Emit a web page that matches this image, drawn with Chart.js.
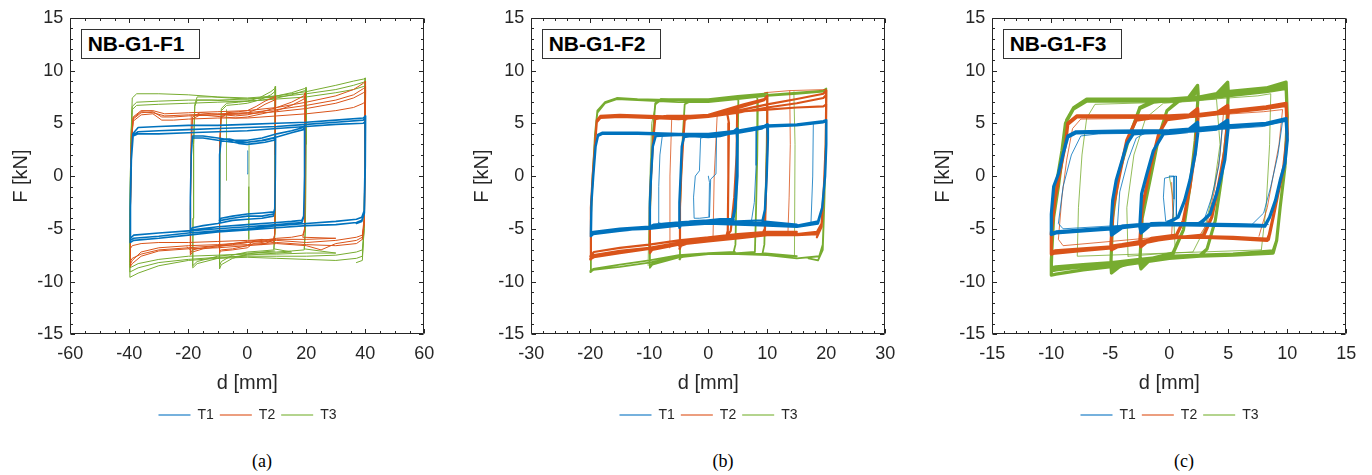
<!DOCTYPE html>
<html>
<head>
<meta charset="utf-8">
<script src="https://cdn.jsdelivr.net/npm/chart.js@4.4.0/dist/chart.umd.min.js"></script>
<style>
  html, body { margin: 0; padding: 0; background: #fff; overflow: hidden; }
  #fig { position: relative; width: 1372px; height: 475px; overflow: hidden; }
  #fig canvas { position: absolute; top: 0; }
  .tag { position: absolute; top: 29px; width: 119px; height: 30px; box-sizing: border-box;
         border: 1.3px solid #333; background: #fff; color: #000; padding-left: 6px;
         font: bold 21px "Liberation Sans", Arial, sans-serif; line-height: 28px; white-space: nowrap; }
  .cap { position: absolute; top: 451px; width: 60px; text-align: center; color: #000;
         font: 18px "Liberation Serif", "Times New Roman", serif; }
</style>
</head>
<body>
<div id="fig"></div>
<script>
// ---- categories / labels ----
const seriesNames = ['T1', 'T2', 'T3'];
const panelTitles = ['NB-G1-F1', 'NB-G1-F2', 'NB-G1-F3'];
const panelCaptions = ['(a)', '(b)', '(c)'];
const fTicks = [-15, -10, -5, 0, 5, 10, 15];
const dTicksA = [-60, -40, -20, 0, 20, 40, 60];
const dTicksB = [-30, -20, -10, 0, 10, 20, 30];
const dTicksC = [-15, -10, -5, 0, 5, 10, 15];

// ---- (a) NB-G1-F1 : [d, F] paths ----
const a_T1 = [
  [9.0,-3.4],[5,-3.5],[0,-3.6],[-5,-3.8],[-8.9,-4.0],[-9.5,-4.2],[-9.5,-1.5],[-9.3,2.0],[-8.9,3.3],[-6,3.3],[-3,3.1],[0,3.0],[3,3.1],[6,3.2],[9.0,3.4],[9.6,3.6],[9.5,0.0],[9.3,-3.1],[8.8,-3.6],
  [5,-3.8],[0,-3.8],[-5,-4.0],[-8.9,-4.2],[-9.5,-4.4],[-9.5,-1.5],[-9.3,2.0],[-8.9,3.5],[-6,3.5],[-3,3.3],[0,3.2],[3,3.3],[6,3.4],[9.0,3.6],[9.6,3.8],[9.5,0.0],[9.3,-3.2],[8.8,-3.8],
  [5,-4.0],[0,-4.1],[-5,-4.2],[-10,-4.5],[-15,-4.7],[-18.6,-4.9],[-19.3,-5.1],[-19.3,-2.0],[-19.0,2.0],[-18.6,3.6],[-15,3.6],[-10,3.4],[-5,3.2],[0,3.2],[5,3.4],[10,3.7],[15,4.1],[19.0,4.4],[19.5,4.6],[19.4,0.0],[19.1,-3.8],[18.5,-4.2],
  [15,-4.3],[10,-4.4],[0,-4.6],[-10,-4.8],[-18.6,-5.1],[-19.3,-5.3],[-19.3,-2.0],[-19.0,2.0],[-18.6,3.8],[-15,3.8],[-10,3.6],[-5,3.4],[0,3.4],[5,3.6],[10,4.0],[15,4.3],[19.0,4.6],[19.5,4.8],[19.4,0.0],[19.1,-3.9],[18.5,-4.4],
  [10,-4.6],[0,-4.8],[-10,-5.0],[-20,-5.2],[-30,-5.4],[-38.5,-5.6],[-39.6,-5.9],[-39.6,-3.0],[-39.3,1.5],[-38.7,3.8],[-37,4.0],[-30,4.0],[-20,4.1],[-10,4.2],[0,4.3],[10,4.5],[20,4.7],[30,4.9],[39.3,5.0],[40.0,5.2],[39.9,1.0],[39.6,-3.3],[38.8,-3.9],[37,-4.1],
  [30,-4.3],[20,-4.5],[10,-4.7],[0,-5.0],[-10,-5.2],[-20,-5.4],[-30,-5.7],[-38.5,-5.9],[-39.7,-6.1],[-39.7,-3.0],[-39.4,1.5],[-38.8,3.9],[-37,4.2],[-30,4.3],[-20,4.4],[-10,4.5],[0,4.6],[10,4.7],[20,4.9],[30,5.1],[39.3,5.3],[40.1,5.5],[40.0,1.0],[39.7,-3.5],[38.8,-4.2],[37,-4.4],
  [30,-4.6],[20,-4.7],[10,-4.9],[0,-5.1],[-10,-5.3],[-20,-5.6],[-30,-5.9],[-38.5,-6.1],[-39.7,-6.3],[-39.7,-3.0],[-39.4,1.5],[-38.8,4.0],[-37,4.6],[-30,4.7],[-20,4.8],[-10,4.8],[0,4.9],[10,5.0],[20,5.1],[30,5.3],[39.3,5.5],[40.1,5.7],[40.0,1.0],[39.7,-3.5],[38.8,-4.3],[37,-4.5]
];
const a_T1_thin = [
  [[0.0,0.2],[0.1,1.5],[0.2,2.4]]
];
const a_T2 = [
  [9.4,-6.0],[5,-6.3],[2,-6.2],[0,-6.6],[-5,-6.9],[-8.8,-7.0],[-9.5,-7.1],[-9.5,-3.0],[-9.3,3.0],[-8.9,5.5],[-7,5.9],[-3,5.9],[0,6.0],[3,6.3],[6,6.8],[9.2,7.2],[9.6,7.4],[9.5,2.0],[9.3,-5.5],[8.8,-6.1],
  [5,-6.5],[2,-6.4],[0,-6.8],[-5,-7.0],[-8.8,-7.1],[-9.5,-7.3],[-9.5,-3.0],[-9.3,3.0],[-8.9,5.6],[-7,6.0],[-3,6.1],[0,6.2],[3,6.6],[6,7.1],[9.2,7.5],[9.6,7.6],[9.5,2.0],[9.3,-5.5],[8.8,-6.3],
  [5,-6.0],[0,-6.2],[-5,-6.4],[-10,-6.6],[-15,-6.8],[-18.6,-7.0],[-19.3,-7.3],[-19.3,-3.0],[-19.0,3.0],[-18.6,5.4],[-16,5.8],[-12,5.7],[-8,5.6],[-4,5.5],[0,5.6],[5,5.9],[10,6.2],[15,6.7],[19.2,7.3],[19.7,7.6],[19.6,2.0],[19.4,-5.0],[18.8,-5.6],
  [15,-5.8],[10,-5.9],[5,-6.1],[0,-6.3],[-5,-6.5],[-10,-6.7],[-15,-6.9],[-18.6,-7.2],[-19.3,-7.5],[-19.3,-3.0],[-19.0,3.0],[-18.6,5.6],[-16,6.0],[-12,5.9],[-8,5.8],[-4,5.7],[0,5.8],[5,6.1],[10,6.5],[15,7.0],[19.2,7.6],[19.7,7.9],[19.6,2.0],[19.4,-5.2],[18.8,-5.8],
  [30,-5.9],[20,-6.0],[10,-6.0],[0,-6.1],[-10,-6.2],[-20,-6.3],[-30,-6.3],[-36,-6.4],[-39,-6.6],[-39.7,-6.9],[-39.6,-3.0],[-39.3,3.0],[-38.7,5.2],[-36,5.8],[-32,5.9],[-29,5.3],[-25,5.3],[-20,5.4],[-10,5.5],[0,5.5],[10,5.7],[20,5.9],[30,6.2],[36,6.5],[39.4,6.9],[40.0,7.1],[39.9,3.0],[39.6,-4.0],[39.0,-5.6],[37,-5.8],
  [30,-6.1],[20,-6.3],[10,-6.1],[0,-6.3],[-10,-6.5],[-20,-6.6],[-30,-6.8],[-36,-7.2],[-39,-8.0],[-39.7,-8.4],[-39.6,-3.0],[-39.3,3.0],[-38.7,5.4],[-36,6.0],[-32,6.1],[-29,5.6],[-25,5.6],[-20,5.7],[-10,5.8],[0,5.9],[10,6.1],[20,6.4],[30,6.9],[36,7.4],[39.4,7.9],[40.1,8.1],[40.0,3.0],[39.7,-4.2],[39.0,-5.8],[37,-6.1],
  [30,-6.4],[25,-7.0],[20,-6.6],[10,-6.4],[0,-6.6],[-10,-6.8],[-20,-6.9],[-30,-7.1],[-36,-7.6],[-39,-8.3],[-39.7,-8.6],[-39.6,-3.0],[-39.3,3.0],[-38.7,5.6],[-36,6.2],[-32,6.2],[-28,5.9],[-20,6.0],[-10,6.1],[0,6.2],[10,6.5],[20,7.0],[30,7.6],[36,8.2],[39.4,8.8],[40.1,9.0],[40.0,3.0],[39.7,-4.2],[39.0,-6.0],[37,-6.4],
  [30,-6.6],[20,-6.5],[10,-6.3],[0,-6.5],[-10,-6.6],[-20,-6.8],[-30,-7.0],[-36,-7.4],[-39,-7.8],[-39.7,-8.1],[-39.6,-3.0],[-39.3,3.0],[-38.7,5.5],[-36,6.1],[-32,6.0],[-28,5.7],[-20,5.8],[-10,5.9],[0,6.0],[10,6.3],[20,6.7],[30,7.2],[36,7.7],[39.4,8.3],[40.1,8.5],[40.0,3.0],[39.7,-4.2],[39.0,-6.0]
];
const a_T2_thin = [
  [[-20.5,-6.7],[-19.4,-7.0],[-19.2,-2.0],[-19.0,5.7]]
];
const a_T3 = [
  [9.3,-7.1],[5,-7.2],[0,-7.4],[-5,-7.8],[-8.8,-8.4],[-9.4,-8.8],[-9.4,-4.0],[-9.2,3.0],[-8.8,6.4],[-7,6.9],[-3,7.0],[0,7.1],[4,7.4],[8,8.0],[9.3,8.3],[9.6,8.5],[9.5,3.0],[9.4,-5.0],[9.0,-7.0],
  [5,-7.1],[0,-7.2],[-5,-7.5],[-8.8,-8.1],[-9.4,-8.5],[-9.4,-4.0],[-9.2,3.0],[-8.8,6.2],[-7,6.7],[-3,6.8],[0,6.9],[4,7.2],[8,7.7],[9.3,8.0],[9.6,8.2],[9.5,3.0],[9.4,-5.0],[9.0,-6.9],
  [15,-7.2],[10,-7.3],[0,-7.5],[-10,-7.8],[-17,-8.3],[-18.5,-8.7],[-18.4,-4.0],[-18.2,3.0],[-17.8,6.8],[-17,7.5],[-12,7.5],[-6,7.4],[0,7.3],[5,7.4],[10,7.6],[15,7.9],[19.5,8.3],[20.0,8.4],[19.9,3.0],[19.7,-5.0],[19.3,-7.0],
  [15,-7.1],[10,-7.2],[0,-7.3],[-10,-7.6],[-17,-8.1],[-18.5,-8.5],[-18.4,-4.0],[-18.2,3.0],[-17.8,6.6],[-17,7.2],[-12,7.2],[-6,7.1],[0,7.1],[5,7.2],[10,7.4],[15,7.7],[19.5,8.1],[20.0,8.2],[19.9,3.0],[19.7,-5.0],[19.3,-6.9],
  [30,-7.3],[20,-7.3],[10,-7.4],[0,-7.4],[-10,-7.5],[-20,-7.6],[-30,-7.9],[-37,-8.3],[-39.8,-8.7],[-39.8,-4.0],[-39.5,3.0],[-39.0,6.3],[-37.5,6.7],[-30,6.8],[-20,6.9],[-10,7.0],[0,7.1],[10,7.3],[20,7.5],[30,7.9],[36,8.2],[39.5,8.5],[40.0,8.6],[39.9,3.0],[39.6,-5.0],[39.0,-7.0],[37,-7.2],
  [30,-7.5],[20,-7.6],[10,-7.6],[0,-7.6],[-10,-7.7],[-20,-7.9],[-30,-8.2],[-37,-8.7],[-39.8,-9.1],[-39.8,-4.0],[-39.5,3.0],[-39.0,6.6],[-37.5,7.0],[-30,7.1],[-20,7.2],[-10,7.2],[0,7.3],[10,7.5],[20,7.8],[30,8.2],[36,8.6],[39.5,8.9],[40.0,9.0],[39.9,3.0],[39.6,-5.0],[39.0,-7.6],[37,-7.8],
  [30,-8.0],[20,-7.9],[10,-7.8],[0,-7.7],[-10,-7.8],[-20,-8.0],[-30,-8.5],[-37,-9.2],[-39.8,-9.6],[-39.8,-4.0],[-39.5,3.0],[-39.0,7.4],[-37.5,7.8],[-30,7.8],[-20,7.7],[-10,7.5],[0,7.4],[10,7.6],[20,8.0],[30,8.6],[36,9.0],[39.5,9.2],[40.0,9.3],[39.9,3.0],[39.6,-5.0],[39.0,-8.0],[37,-8.2]
];
const a_T3_thin = [
  [[-7.2,-0.4],[-7.1,3.0],[-7.0,6.3]],
  [[0.6,3.3],[0.55,-1.0],[0.5,-6.0]]
];

// ---- (b) NB-G1-F2 ----
const b_T1 = [
  [4.3,-4.1],[2,-4.1],[0,-4.2],[-3,-4.3],[-4.5,-4.5],[-4.9,-4.7],[-4.9,-2.5],[-4.7,0.0],[-4.5,2.8],[-4.1,3.8],[-3,3.9],[0,3.8],[2,3.9],[4.2,4.2],[4.9,4.5],[5.0,3.5],[4.9,0.0],[4.6,-3.0],[4.2,-4.2],
  [2,-4.3],[0,-4.3],[-3,-4.5],[-4.5,-4.6],[-4.9,-4.9],[-4.9,-2.5],[-4.7,0.0],[-4.5,2.8],[-4.1,3.7],[-3,3.8],[0,3.7],[2,3.8],[4.2,4.1],[4.8,4.4],[4.9,3.5],[4.8,0.0],[4.5,-3.0],[4.1,-4.1],
  [0,-4.2],[-5,-4.4],[-9.2,-4.6],[-9.9,-4.8],[-9.9,-2.5],[-9.7,0.0],[-9.4,2.8],[-8.9,3.8],[-5,3.9],[0,3.8],[5,4.1],[9.0,4.5],[10.0,4.8],[10.1,3.5],[9.9,0.0],[9.6,-3.2],[9.2,-4.2],[5,-4.3],
  [0,-4.4],[-5,-4.5],[-9.2,-4.8],[-9.9,-5.0],[-9.9,-2.5],[-9.7,0.0],[-9.4,2.8],[-8.9,3.9],[-5,4.0],[0,3.9],[5,4.2],[9.0,4.6],[10.0,4.9],[10.1,3.5],[9.9,0.0],[9.6,-3.2],[9.2,-4.3],
  [15,-4.6],[10,-4.5],[5,-4.4],[0,-4.2],[-5,-4.5],[-10,-4.8],[-15,-5.0],[-19.5,-5.3],[-19.9,-5.5],[-19.8,-2.5],[-19.5,0.0],[-19.1,2.8],[-18.7,3.8],[-18,4.0],[-12,4.0],[-5,3.9],[0,3.85],[5,4.1],[10,4.7],[15,4.8],[19.5,5.1],[20.0,5.2],[20.0,3.0],[19.8,0.0],[19.3,-3.0],[18.6,-4.3],
  [15,-4.7],[10,-4.6],[5,-4.5],[0,-4.4],[-5,-4.6],[-10,-4.9],[-15,-5.2],[-19.5,-5.5],[-19.9,-5.7],[-19.8,-2.5],[-19.5,0.0],[-19.1,2.8],[-18.7,3.9],[-18,4.1],[-12,4.1],[-5,4.0],[0,4.0],[5,4.3],[10,4.8],[15,4.9],[19.5,5.2],[20.0,5.3],[20.0,3.0],[19.8,0.0],[19.3,-3.0],[18.6,-4.5],
  [15,-4.8],[10,-4.7],[5,-4.6],[0,-4.5],[-5,-4.7],[-10,-5.0],[-15,-5.1],[-19.5,-5.3],[-19.9,-5.4]
];
const b_T1_thin = [
  [[0.0,0.0],[0.2,-0.6],[0.1,-3.9],[-1.5,-4.0],[-2.4,-4.0],[-2.5,-2.0],[-2.2,0.0],[-1.5,0.5],[-1.3,3.6],[-0.5,3.7],[1.0,3.7],[1.4,3.7],[1.3,0.2],[0.4,-0.3],[0.2,-3.9]],
  [[7.5,-4.3],[0,-4.3],[-8.0,-4.5],[-8.5,-4.4],[-8.4,-1.0],[-8.2,2.0],[-7.8,3.8],[0,3.9],[7.5,4.3],[8.2,4.5],[8.1,1.0],[7.8,-2.5],[7.3,-4.3]],
  [[17.8,4.9],[17.7,0.0],[17.4,-4.5]]
];
const b_T2 = [
  [3.0,-5.7],[0,-5.8],[-3,-6.2],[-4.6,-6.5],[-4.9,-6.7],[-4.8,-3.0],[-4.6,0.0],[-4.3,3.0],[-4.0,5.3],[-3,5.6],[0,5.7],[2,5.8],[3.5,6.0],[4.6,6.3],[4.9,6.4],[4.8,2.0],[4.4,-2.0],[3.8,-5.2],[3.0,-5.8],
  [0,-5.9],[-3,-6.3],[-4.6,-6.6],[-4.9,-6.9],[-4.8,-3.0],[-4.6,0.0],[-4.3,3.0],[-4.0,5.4],[-3,5.7],[0,5.8],[2,5.9],[3.2,6.0],[3.5,5.0],[3.4,0.0],[3.3,-5.2],[3.0,-5.8],
  [0,-5.8],[-5,-6.3],[-9.5,-6.9],[-9.9,-7.1],[-9.9,-3.0],[-9.7,0.0],[-9.4,3.0],[-9.0,5.4],[-7,5.6],[-3,5.6],[0,5.7],[3,6.1],[6,6.6],[9.5,7.2],[10.0,7.5],[10.0,3.0],[9.8,-1.0],[9.6,-5.0],[9.2,-5.4],[5,-5.6],
  [0,-6.0],[-5,-6.5],[-9.5,-7.0],[-9.9,-7.3],[-9.9,-3.0],[-9.7,0.0],[-9.4,3.0],[-9.0,5.5],[-7,5.7],[-3,5.7],[0,5.8],[3,6.3],[6,6.8],[9.5,7.3],[10.0,7.6],[10.0,3.0],[9.8,-1.0],[9.6,-5.1],[9.2,-5.5],
  [15,-5.3],[10,-5.3],[5,-5.5],[0,-5.8],[-5,-6.1],[-10,-6.5],[-15,-6.8],[-19.4,-7.2],[-20.0,-7.6],[-19.9,-3.0],[-19.6,0.0],[-19.2,3.0],[-18.9,5.1],[-18.3,5.5],[-15,5.6],[-10,5.5],[-5,5.4],[0,5.6],[5,6.0],[10,6.5],[15,6.9],[19.5,7.4],[20.0,7.7],[19.9,3.0],[19.6,-1.0],[19.2,-4.5],[18.4,-5.3],
  [15,-5.5],[10,-5.5],[5,-5.7],[0,-6.0],[-5,-6.3],[-10,-6.8],[-15,-7.1],[-19.4,-7.5],[-20.0,-7.8],[-19.9,-3.0],[-19.6,0.0],[-19.2,3.0],[-18.9,5.2],[-18.3,5.6],[-15,5.7],[-10,5.6],[-5,5.5],[0,5.7],[5,6.2],[10,6.8],[15,7.3],[19.5,7.8],[20.0,8.1],[19.9,3.0],[19.6,-1.0],[19.2,-4.6],[18.4,-5.5],
  [15,-5.6],[10,-5.6],[5,-5.9],[0,-6.2],[-5,-6.5],[-10,-6.9],[-15,-7.3],[-19.4,-7.7],[-20.0,-7.9],[-19.9,-3.0],[-19.6,0.0],[-19.2,3.0],[-18.9,5.3],[-18.3,5.7],[-15,5.8],[-10,5.7],[-5,5.6],[0,5.8],[5,6.1],[10,6.3],[15,6.5],[19.5,6.6],[20.0,6.8],[19.9,3.0],[19.6,-1.0],[19.2,-4.8],[18.4,-5.8]
];
const b_T2_thin = [
  [[9.5,7.9],[13.8,8.1],[20.0,8.2],[19.9,3.0]],
  [[13.8,8.1],[13.9,3.0],[13.7,-2.0],[13.5,-5.4]],
  [[-6.6,-6.8],[-6.5,0.0],[-6.2,5.5]],
  [[0.8,-5.9],[1.0,0.0],[1.5,5.7]]
];
const b_T3 = [
  [4.5,-7.2],[0,-7.3],[-3,-7.5],[-4.6,-7.7],[-4.9,-7.9],[-4.8,-3.0],[-4.6,0.0],[-4.3,4.0],[-4.0,6.8],[-3,7.1],[0,7.1],[3,7.3],[4.8,7.5],[5.1,7.6],[5.0,3.0],[4.8,-1.0],[4.6,-6.5],[4.3,-7.2],
  [0,-7.4],[-5,-7.7],[-9.5,-8.3],[-9.9,-8.6],[-9.9,-4.0],[-9.7,0.0],[-9.4,4.0],[-9.0,6.8],[-8,7.2],[-3,7.2],[0,7.2],[5,7.5],[8.2,7.7],[8.4,7.0],[8.3,2.0],[8.1,-3.0],[7.9,-7.2],[5,-7.3],
  [0,-7.4],[-5,-7.7],[-9.5,-8.4],[-9.9,-8.7],[-9.9,-4.0],[-9.7,0.0],[-9.4,4.0],[-9.0,6.9],[-8,7.3],[-3,7.3],[0,7.3],[5,7.6],[9.5,7.8],[10.0,7.9],[9.9,3.0],[9.7,-2.0],[9.5,-6.5],[9.2,-7.3],
  [15,-7.6],[10,-7.4],[5,-7.3],[0,-7.3],[-5,-7.5],[-10,-8.0],[-15,-8.4],[-19.5,-8.8],[-20.0,-9.0],[-19.9,-4.0],[-19.6,0.0],[-19.2,4.0],[-18.8,6.2],[-17.5,7.0],[-15.5,7.4],[-12,7.3],[-5,7.2],[0,7.1],[5,7.4],[10,7.7],[15,7.9],[19.5,8.1],[20.0,8.3],[19.9,3.0],[19.7,-2.0],[19.4,-6.5],[18.8,-7.6],
  [15,-7.8],[10,-7.5],[5,-7.4],[0,-7.4],[-5,-7.6],[-10,-8.2],[-15,-8.6],[-19.5,-8.9],[-20.0,-9.1],[-19.9,-4.0],[-19.6,0.0],[-19.2,4.0],[-18.8,6.0],[-17.5,6.9],[-15.5,7.3],[-12,7.2],[-5,7.0],[0,7.0],[5,7.3],[10,7.6],[15,7.8],[19.5,8.0],[20.0,8.2],[19.9,3.0],[19.7,-2.0],[19.4,-7.0],[18.6,-8.0],[17,-7.8]
];
const b_T3_thin = [
  [[14.5,8.0],[14.7,3.0],[14.6,-7.6]],
  [[-10.2,-8.5],[-10.0,-2.0],[-9.6,5.0],[-8.8,7.0]]
];

// ---- (c) NB-G1-F3 ----
const c_T1 = [
  [-0.2,-4.5],[-1.5,-4.55],[-2.4,-5.4],[-2.5,-4.8],[-2.35,-1.7],[-1.9,0.2],[-1.35,2.4],[-0.5,4.0],[0.5,4.2],[1.5,4.3],[2.4,5.1],[2.45,4.4],[2.2,2.1],[1.75,-0.4],[1.3,-2.3],[0.75,-3.9],[-0.2,-4.5],
  [-1.5,-4.6],[-2.4,-5.2],[-2.5,-4.8],[-2.35,-1.7],[-1.9,0.2],[-1.35,2.4],[-0.5,4.0],[0.5,4.15],[1.5,4.25],[2.4,4.8],[2.45,4.4],[2.2,2.1],[1.75,-0.4],[1.3,-2.3],[0.75,-3.9],[-0.2,-4.45],
  [-1.5,-4.5],[-2.4,-5.0],[-2.5,-4.8],[-2.35,-1.7],[-1.9,0.2],[-1.35,2.4],[-0.5,4.0],[0.5,4.1],[1.5,4.2],[2.4,4.6],[2.45,4.4],[2.2,2.1],[1.75,-0.4],[1.3,-2.3],[0.75,-3.9],[-0.2,-4.5],
  [-2.5,-4.65],[-4.0,-4.9],[-4.9,-5.6],[-4.95,-5.0],[-4.8,-2.3],[-4.5,-0.4],[-4.0,1.5],[-3.6,3.05],[-3.05,4.0],[-2,4.15],[0,4.2],[2.6,4.4],[4.0,4.6],[4.95,5.3],[5.0,4.7],[4.7,1.5],[4.4,0.0],[4.0,-1.7],[3.45,-3.6],[2.6,-4.5],[0,-4.5],
  [-2.5,-4.6],[-4.0,-4.8],[-4.9,-5.3],[-4.95,-5.0],[-4.8,-2.3],[-4.5,-0.4],[-4.0,1.5],[-3.6,3.05],[-3.05,4.0],[-2,4.1],[0,4.15],[2.6,4.35],[4.0,4.5],[4.95,5.0],[5.0,4.7],[4.7,1.5],[4.4,0.0],[4.0,-1.7],[3.45,-3.6],[2.6,-4.55],
  [0,-4.55],[-2.5,-4.6],[-4.0,-4.75],[-4.9,-5.1],[-4.95,-5.0],[-4.8,-2.3],[-4.5,-0.4],[-4.0,1.5],[-3.6,3.05],[-3.05,4.0],[-2,4.1],[0,4.15],[2.6,4.3],[4.0,4.45],[4.95,4.85],[5.0,4.7],[4.7,1.5],[4.4,0.0],[4.0,-1.7],[3.45,-3.6],[2.6,-4.5],
  [0,-4.5],[-2.5,-4.6],[-4.9,-4.9],[-7.3,-5.1],[-9.6,-5.3],[-10.0,-5.45],[-10.0,-3.6],[-9.8,-1.0],[-9.4,0.2],[-9.0,2.1],[-8.6,3.7],[-7.9,4.1],[-4.5,4.15],[0,4.2],[1.75,4.35],[4.9,4.6],[8.2,4.9],[9.9,5.3],[10.0,3.4],[9.8,1.2],[9.4,-0.4],[9.0,-2.3],[8.5,-3.9],[8.1,-4.7],[5.4,-4.6],[2.6,-4.55],
  [0,-4.6],[-2.5,-4.7],[-4.9,-5.0],[-7.3,-5.2],[-9.6,-5.4],[-10.0,-5.55],[-10.0,-3.6],[-9.8,-1.0],[-9.4,0.2],[-9.0,2.1],[-8.6,3.8],[-7.9,4.2],[-4.5,4.25],[0,4.3],[1.75,4.45],[4.9,4.75],[8.2,5.0],[9.9,5.45],[10.0,3.4],[9.8,1.2],[9.4,-0.4],[9.0,-2.3],[8.5,-3.9],[8.1,-4.75],[5.4,-4.7],[2.6,-4.65],[0,-4.6]
];
const c_T1_thin = [
  [[0,0],[0.4,0.0],[0.4,-2.2],[0.3,-4.1],[-0.3,-4.3],[-0.5,-2.0],[-0.4,-0.2],[0.0,-0.1],[0.6,0.0],[0.6,-4.0]],
  [[8.4,-4.6],[0,-4.4],[-9.0,-5.0],[-9.4,-4.5],[-9.0,-1.0],[-8.3,2.0],[-7.5,3.8],[-6,4.0],[0,4.1],[8,4.7],[9.6,5.2],[9.2,2.0],[8.6,-1.0],[8.0,-3.5],[7.0,-4.6]],
  [[-4.4,-4.8],[-4.2,-1.5],[-3.5,1.5],[-2.8,3.6],[-2.0,4.1]],
  [[4.5,4.8],[4.2,1.0],[3.6,-2.0],[3.0,-4.0],[2.3,-4.5]]
];
const c_T2 = [
  [0.6,-5.6],[-1.5,-5.9],[-2.4,-6.7],[-2.5,-6.3],[-2.3,-3.0],[-1.6,0.85],[-0.9,4.0],[-0.2,5.4],[1.0,5.6],[1.6,5.7],[2.4,6.4],[2.45,5.8],[2.2,2.4],[1.75,-1.0],[1.2,-4.2],[0.6,-5.6],
  [-1.5,-6.0],[-2.4,-6.5],[-2.5,-6.3],[-2.3,-3.0],[-1.6,0.85],[-0.9,4.0],[-0.2,5.35],[1.0,5.55],[1.6,5.65],[2.4,6.2],[2.45,5.8],[2.2,2.4],[1.75,-1.0],[1.2,-4.2],[0.6,-5.65],
  [-1.5,-5.95],[-2.4,-6.3],[-2.5,-6.2],[-2.3,-3.0],[-1.6,0.85],[-0.9,4.0],[-0.2,5.35],[1.0,5.5],[1.6,5.6],[2.4,6.0],[2.45,5.8],[2.2,2.4],[1.75,-1.0],[1.2,-4.2],[0.6,-5.6],
  [0,-5.8],[-2.5,-6.2],[-4.0,-6.5],[-4.9,-7.0],[-4.95,-6.6],[-4.75,-2.9],[-4.2,0.2],[-3.6,3.4],[-2.8,5.4],[-1.5,5.6],[0,5.6],[2.6,5.8],[4.0,6.0],[4.95,6.7],[5.0,6.0],[4.7,2.4],[4.15,-1.0],[3.6,-3.9],[2.9,-5.6],
  [0,-5.9],[-2.5,-6.3],[-4.0,-6.6],[-4.9,-6.85],[-4.95,-6.6],[-4.75,-2.9],[-4.2,0.2],[-3.6,3.4],[-2.8,5.35],[-1.5,5.55],[0,5.55],[2.6,5.75],[4.0,5.95],[4.95,6.45],[5.0,6.0],[4.7,2.4],[4.15,-1.0],[3.6,-3.9],[2.9,-5.7],
  [0,-5.85],[-2.5,-6.25],[-4.0,-6.5],[-4.9,-6.65],[-4.95,-6.5],[-4.75,-2.9],[-4.2,0.2],[-3.6,3.4],[-2.8,5.3],[-1.5,5.5],[0,5.5],[2.6,5.7],[4.0,5.9],[4.95,6.2],[5.0,6.0],[4.7,2.4],[4.15,-1.0],[3.6,-3.9],[2.9,-5.7],
  [0,-5.8],[-2.5,-6.3],[-4.9,-6.7],[-7.3,-6.9],[-9.7,-7.1],[-10.0,-7.2],[-10.0,-5.45],[-9.7,-2.3],[-9.3,0.2],[-8.8,3.05],[-8.6,4.9],[-7.85,5.6],[-4.5,5.6],[0,5.6],[2.6,5.75],[4.9,6.0],[8.2,6.4],[9.9,6.7],[10.0,4.0],[9.7,0.85],[9.2,-1.7],[8.8,-3.9],[8.5,-5.45],[8.4,-6.0],[5.4,-5.8],[2.6,-5.75],
  [0,-5.85],[-2.5,-6.4],[-4.9,-6.8],[-7.3,-7.05],[-9.7,-7.3],[-10.0,-7.4],[-10.0,-5.45],[-9.7,-2.3],[-9.3,0.2],[-8.8,3.05],[-8.6,5.0],[-7.85,5.7],[-4.5,5.7],[0,5.7],[2.6,5.85],[4.9,6.15],[8.2,6.55],[9.9,6.9],[10.0,4.0],[9.7,0.85],[9.2,-1.7],[8.8,-3.9],[8.5,-5.5],[8.3,-6.1],[5.4,-5.9],[2.6,-5.8],[0,-5.85]
];
const c_T2_thin = [
  [[8.2,-5.9],[0,-5.7],[-9.0,-6.6],[-9.4,-6.0],[-9.1,-2.0],[-8.7,1.5],[-8.2,4.5],[-7.5,5.4],[0,5.5],[8,6.1],[9.6,6.3],[9.3,3.0],[8.8,0.0],[8.3,-3.0],[7.6,-5.7]],
  [[4.6,6.1],[4.3,2.0],[3.8,-1.5],[3.2,-4.5],[2.6,-5.6]],
  [[0.2,-0.6],[0.3,-3.5],[0.2,-5.6]]
];
const c_T3 = [
  [0.3,-7.3],[-1.5,-7.8],[-2.4,-8.8],[-2.5,-8.3],[-2.3,-4.0],[-1.6,-0.2],[-0.9,3.7],[-0.2,6.2],[0.8,7.2],[1.6,7.4],[2.4,8.6],[2.45,7.8],[2.2,3.4],[1.75,-1.0],[1.2,-5.1],[0.3,-7.3],
  [-1.5,-7.9],[-2.4,-8.5],[-2.5,-8.3],[-2.3,-4.0],[-1.6,-0.2],[-0.9,3.7],[-0.2,6.2],[0.8,7.1],[1.6,7.3],[2.4,8.3],[2.45,7.8],[2.2,3.4],[1.75,-1.0],[1.2,-5.1],[0.3,-7.4],
  [-1.5,-7.85],[-2.4,-8.2],[-2.5,-8.1],[-2.3,-4.0],[-1.6,-0.2],[-0.9,3.7],[-0.2,6.2],[0.8,7.1],[1.6,7.3],[2.4,8.0],[2.45,7.8],[2.2,3.4],[1.75,-1.0],[1.2,-5.1],[0.3,-7.4],
  [0,-7.6],[-2.5,-8.0],[-4.0,-8.4],[-4.9,-9.2],[-4.95,-8.4],[-4.8,-3.9],[-4.3,0.2],[-3.3,4.0],[-2.5,6.5],[-1.35,7.15],[0,7.3],[2.6,7.5],[4.0,7.8],[4.95,8.9],[5.0,8.0],[4.85,4.0],[4.4,-0.4],[3.9,-4.2],[3.2,-6.9],[2.6,-7.5],
  [0,-7.7],[-2.5,-8.1],[-4.0,-8.5],[-4.9,-8.9],[-4.95,-8.4],[-4.8,-3.9],[-4.3,0.2],[-3.3,4.0],[-2.5,6.4],[-1.35,7.05],[0,7.2],[2.6,7.4],[4.0,7.7],[4.95,8.6],[5.0,8.0],[4.85,4.0],[4.4,-0.4],[3.9,-4.2],[3.2,-6.9],[2.6,-7.6],
  [0,-7.7],[-2.5,-8.0],[-4.0,-8.35],[-4.9,-8.6],[-4.95,-8.4],[-4.8,-3.9],[-4.3,0.2],[-3.3,4.0],[-2.5,6.4],[-1.35,7.0],[0,7.15],[2.6,7.35],[4.0,7.65],[4.95,8.3],[5.0,8.0],[4.85,4.0],[4.4,-0.4],[3.9,-4.2],[3.2,-6.9],[2.6,-7.6],
  [0,-7.8],[-2.5,-8.2],[-4.9,-8.6],[-7.3,-8.9],[-9.6,-9.3],[-10.0,-9.4],[-10.0,-8.0],[-9.8,-3.9],[-9.4,-1.0],[-9.0,2.4],[-8.7,5.3],[-8.1,6.5],[-7.0,7.3],[-4.5,7.3],[0,7.3],[2.6,7.5],[4.9,8.0],[8.2,8.35],[9.9,8.9],[10.0,5.6],[9.8,0.85],[9.4,-2.9],[9.1,-6.1],[8.8,-7.3],[5.4,-7.5],[2.6,-7.6],
  [0,-7.7],[-2.5,-8.0],[-4.9,-8.4],[-7.3,-8.6],[-9.6,-8.9],[-10.0,-9.0],[-10.0,-8.0],[-9.8,-3.9],[-9.4,-1.0],[-9.0,2.4],[-8.7,5.2],[-8.1,6.4],[-7.0,7.2],[-4.5,7.2],[0,7.2],[2.6,7.4],[4.9,7.8],[8.2,8.2],[9.9,8.6],[10.0,5.6],[9.8,0.85],[9.4,-2.9],[9.1,-6.1],[8.8,-7.1],[5.4,-7.4],[2.6,-7.5],[0,-7.6],
  [-2.5,-7.9],[-4.9,-8.2],[-7.3,-8.4],[-9.6,-8.6],[-10.0,-8.7],[-9.9,-5.0],[-9.6,-1.0],[-9.1,2.4],[-8.8,5.0],[-8.2,6.3],[-7.0,7.1],[-4.5,7.1],[0,7.1],[2.6,7.3],[4.9,7.6],[8.2,8.0],[9.9,8.3],[10.0,5.6]
];
const c_T3_thin = [
  [[7.8,-7.0],[0,-7.3],[-7.8,-7.6],[-7.7,-3.0],[-7.4,2.0],[-7.0,5.5],[-6.3,6.8],[0,7.0],[7.5,7.6],[8.6,7.8],[8.5,3.0],[8.2,-3.0],[7.8,-7.0]],
  [[-3.5,-7.6],[-3.6,-3.0],[-3.0,2.0],[-2.0,5.5],[-0.5,6.9],[2,7.1],[4,7.3],[4.3,3.0],[3.8,-1.0],[3.0,-5.0],[2.0,-7.2],[0,-7.3],[-3.5,-7.6]],
  [[0.0,0.0],[0.3,-2.0],[0.5,-7.0]]
];

// ---- styling ----
const colors = ['#0072BD', '#D95319', '#77AC30'];
const legendColors = ['#76b1dd', '#ec9e7f', '#b4d48e'];
const FONT = "'Liberation Sans', Arial, Helvetica, sans-serif";
const INK = '#262626';

const panels = [
  { left: 0,   d: [-60, 60], dTicks: dTicksA, dMinor: 5, main: [a_T1, a_T2, a_T3], thin: [a_T1_thin, a_T2_thin, a_T3_thin], widths: [1.6, 1.0, 1.0] },
  { left: 461, d: [-30, 30], dTicks: dTicksB, dMinor: 2, main: [b_T1, b_T2, b_T3], thin: [b_T1_thin, b_T2_thin, b_T3_thin], widths: [2.4, 2.2, 1.8] },
  { left: 922, d: [-15, 15], dTicks: dTicksC, dMinor: 1, main: [c_T1, c_T2, c_T3], thin: [c_T1_thin, c_T2_thin, c_T3_thin], widths: [3.2, 3.2, 3.2] }
];

// box + inward ticks on all four sides
const framePlugin = {
  id: 'frame',
  afterDatasetsDraw(chart, args, opts) {
    const { ctx, chartArea: ca, scales: { x, y } } = chart;
    const L = Math.round(ca.left) + 0.5, R = Math.round(ca.right) - 0.5;
    const T = Math.round(ca.top) + 0.5, B = Math.round(ca.bottom) - 0.5;
    const isMajor = (s, v) => s.ticks.some(t => Math.abs(t.value - v) < 1e-6);
    ctx.save();
    ctx.strokeStyle = INK;
    ctx.lineWidth = 1;
    ctx.beginPath();
    for (let k = 0; x.min + k * opts.xMinor <= x.max + 1e-9; k++) {
      const v = x.min + k * opts.xMinor;
      const px = Math.round(x.getPixelForValue(v)) + 0.5;
      const len = isMajor(x, v) ? 4.5 : 2.5;
      ctx.moveTo(px, B); ctx.lineTo(px, B - len);
      ctx.moveTo(px, T); ctx.lineTo(px, T + len);
    }
    for (let k = 0; y.min + k * opts.yMinor <= y.max + 1e-9; k++) {
      const v = y.min + k * opts.yMinor;
      const py = Math.round(y.getPixelForValue(v)) + 0.5;
      const len = isMajor(y, v) ? 4.5 : 2.5;
      ctx.moveTo(L, py); ctx.lineTo(L + len, py);
      ctx.moveTo(R, py); ctx.lineTo(R - len, py);
    }
    ctx.rect(L, T, R - L, B - T);
    ctx.stroke();
    ctx.restore();
  }
};

const toXY = arr => arr.map(p => ({ x: p[0], y: p[1] }));
const fig = document.getElementById('fig');

panels.forEach((p, pi) => {
  const cv = document.createElement('canvas');
  cv.width = 495; cv.height = 440;
  cv.style.left = p.left + 'px';
  fig.appendChild(cv);

  const tag = document.createElement('div');
  tag.className = 'tag';
  tag.style.left = (p.left + 80.7) + 'px';
  tag.textContent = panelTitles[pi];
  fig.appendChild(tag);

  const cap = document.createElement('div');
  cap.className = 'cap';
  cap.style.left = (p.left + 232) + 'px';
  cap.textContent = panelCaptions[pi];
  fig.appendChild(cap);

  const datasets = [];
  seriesNames.forEach((name, si) => {
    datasets.push({
      label: name, data: toXY(p.main[si]), yAxisID: 'y',
      borderColor: colors[si], borderWidth: p.widths[si], order: si * 2
    });
    p.thin[si].forEach(seg => datasets.push({
      label: '', data: toXY(seg), yAxisID: 'y',
      borderColor: colors[si], borderWidth: 0.8, order: si * 2 + 1
    }));
  });

  new Chart(cv, {
    type: 'scatter',
    data: { datasets },
    plugins: [framePlugin],
    options: {
      responsive: false,
      animation: false,
      events: [],
      showLine: true,
      datasets: { scatter: { showLine: true, pointRadius: 0, fill: false, borderJoinStyle: 'round', borderCapStyle: 'round' } },
      elements: { point: { radius: 0 }, line: { tension: 0 } },
      layout: { padding: { top: 16.7, bottom: 8, left: 0, right: 0 } },
      scales: {
        x: {
          type: 'linear', min: p.d[0], max: p.d[1],
          afterBuildTicks: s => { s.ticks = p.dTicks.map(v => ({ value: v })); },
          afterFit: s => { s.height = 67.7; },
          grid: { display: false, drawTicks: false },
          border: { display: false },
          ticks: { font: { family: FONT, size: 18 }, color: INK, padding: 9, maxRotation: 0, autoSkip: false },
          title: { display: true, text: 'd [mm]', font: { family: FONT, size: 20 }, color: INK, padding: { top: 0, bottom: 7 } }
        },
        y: {
          type: 'linear', position: 'left', min: -15, max: 15,
          afterBuildTicks: s => { s.ticks = fTicks.map(v => ({ value: v })); },
          afterFit: s => { s.width = 70.3; },
          grid: { display: false, drawTicks: false },
          border: { display: false },
          ticks: { font: { family: FONT, size: 18 }, color: INK, padding: 7 },
          title: { display: true, text: 'F [kN]', font: { family: FONT, size: 20 }, color: INK, padding: { top: 9, bottom: 0 } }
        },
        y2: {
          type: 'linear', position: 'right', min: -15, max: 15, display: true,
          afterFit: s => { s.width = 70.7; },
          grid: { display: false, drawTicks: false },
          border: { display: false },
          ticks: { display: false }
        }
      },
      plugins: {
        frame: { xMinor: p.dMinor, yMinor: 1 },
        tooltip: { enabled: false },
        legend: {
          display: true, position: 'bottom', align: 'center',
          labels: {
            boxWidth: 32, boxHeight: 2, padding: 6, color: INK,
            font: { family: FONT, size: 14 },
            generateLabels: () => seriesNames.map((n, i) => ({
              text: n, fillStyle: legendColors[i], strokeStyle: legendColors[i],
              lineWidth: 0, hidden: false, datasetIndex: i, fontColor: INK
            }))
          }
        }
      }
    }
  });
});
</script>
</body>
</html>
